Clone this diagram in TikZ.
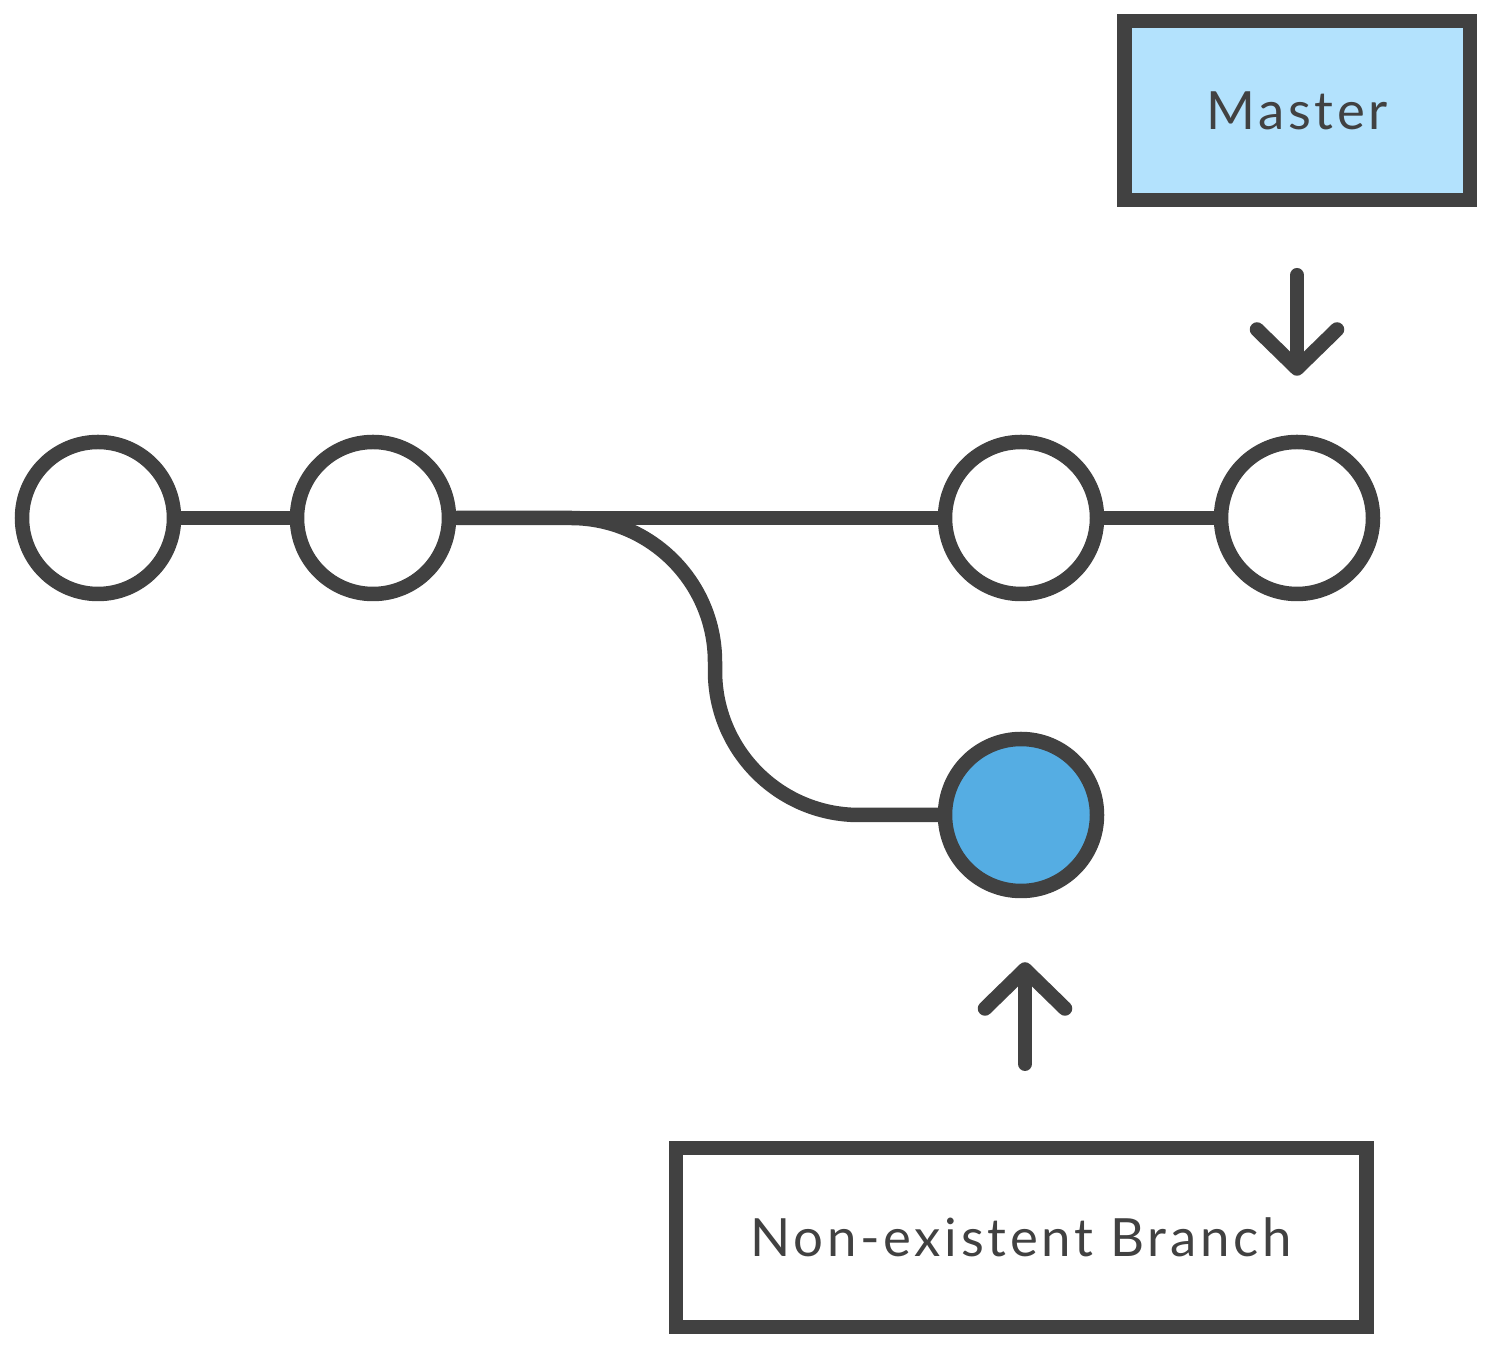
\documentclass[tikz,border=0pt]{standalone}
\usepackage{fontspec}
\setmainfont{Lato}[LetterSpace=7]
\usetikzlibrary{positioning, arrows.meta}
\definecolor{ink}{HTML}{414141}
\definecolor{masterblue}{HTML}{B3E2FD}
\definecolor{headblue}{HTML}{55ADE3}

\begin{document}
\begin{tikzpicture}[>={Straight Barb[length=0.39cm, width=0.8cm, round]},
    color=ink, line width=0.145cm,
    commit/.style={circle, draw, fill=white, minimum size=1.52cm, inner sep=0pt},
    head/.style={commit, fill=headblue},
    refbox/.style={rectangle, draw, minimum height=1.79cm, inner sep=0pt,
        font=\fontsize{15}{18}\selectfont},
    ptr/.style={->, line cap=round, line join=round}]

\useasboundingbox (0,0) rectangle (14.92,-13.52);

% Define nodes
\node[commit] (c1) at (0.98,-5.18) {};
\node[commit, right of=c1, node distance=2.75cm] (c2) {};
\node[commit, right of=c2, node distance=6.48cm] (c3) {};
\node[commit, right of=c3, node distance=2.76cm] (c4) {};
\node[head, below of=c3, node distance=2.97cm] (c5) {};

\node[refbox, fill=masterblue, minimum width=3.455cm, above of=c4, node distance=4.075cm] (master) {Master};
\node[refbox, fill=white, minimum width=6.905cm, below of=c5, node distance=4.225cm] (nb) {Non-existent Branch};

\coordinate (bend) at (7.15,-5.18);

% Draw history
\draw (c1) -- (c2);
\draw (c2) -- (c3);
\draw (c3) -- (c4);
\draw[rounded corners=1.44cm] (c2) -| (bend |- c5) -- (c5);

% Draw pointers
\draw[ptr, shorten <=0.68cm, shorten >=0.59cm] (master) -- (c4);
\draw[ptr, shorten <=0.77cm, shorten >=0.64cm] ([xshift=0.04cm]nb.north) -- ([xshift=0.04cm]c5.south);

\end{tikzpicture}
\end{document}
